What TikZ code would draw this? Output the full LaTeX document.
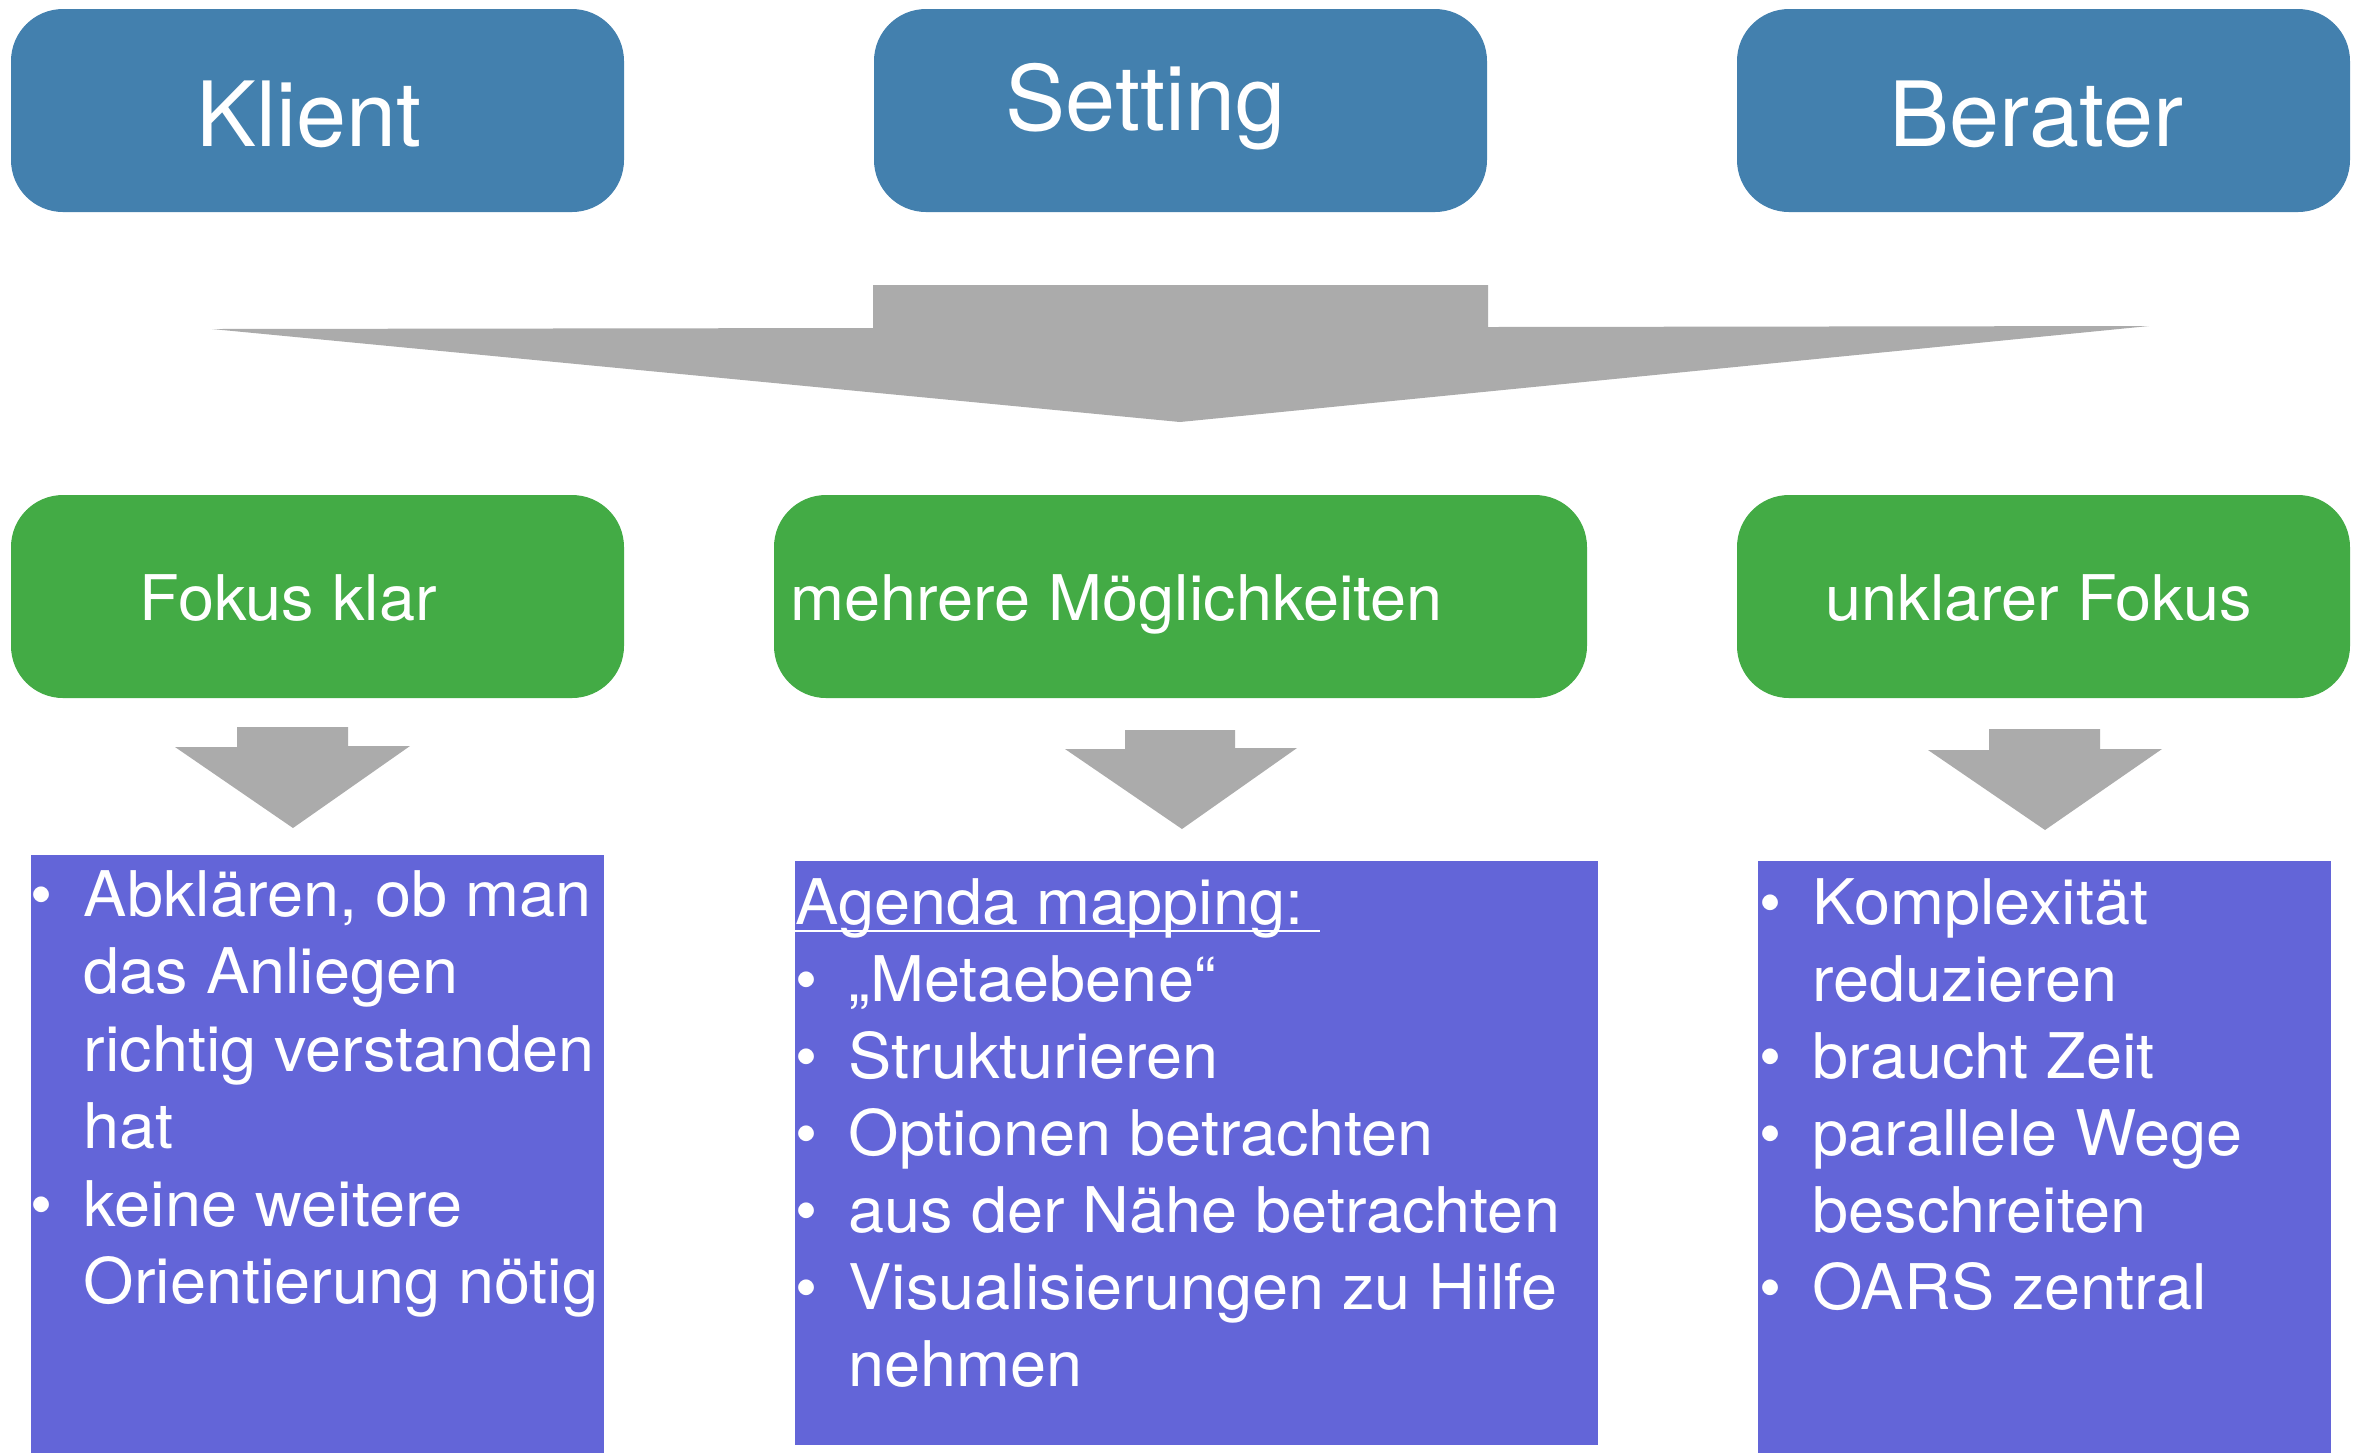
\documentclass[tikz,border=0pt]{standalone}
\usepackage{fontspec}
\setmainfont{TeX Gyre Heros}
\newfontfamily\bodyfont[FakeStretch=1.03]{TeX Gyre Heros}
\usetikzlibrary{fit}
\definecolor{topblue}{RGB}{67,128,174}
\definecolor{focusgreen}{RGB}{67,171,69}
\definecolor{notepurple}{RGB}{99,101,216}
\definecolor{arrowgray}{RGB}{171,171,171}
\begin{document}
\begin{tikzpicture}[x=0.01cm,y=-0.01cm,
  topbox/.style={fill=topblue, draw=none, rounded corners=0.52cm, inner sep=0pt},
  focusbox/.style={fill=focusgreen, draw=none, rounded corners=0.52cm, inner sep=0pt},
  notebox/.style={fill=notepurple, draw=none, inner sep=0pt},
  title/.style={text=white, inner sep=0pt, anchor=base west, font=\fontsize{25.6}{30}\selectfont},
  label/.style={text=white, inner sep=0pt, anchor=base west, font=\bodyfont\fontsize{17.9}{21.9}\selectfont},
  dot/.style={text=white, inner sep=0pt, anchor=base, font=\fontsize{17.9}{21.9}\selectfont},
  blockarrow/.style={fill=arrowgray, draw=none}]

\useasboundingbox (0,0) rectangle (2365,1453);

% top row: the three parties
\node[topbox, fit={(11,9) (624,212)}] (klient) {};
\node[topbox, fit={(874,9) (1487,212)}] (setting) {};
\node[topbox, fit={(1737,9) (2350,212)}] (berater) {};
\node[title] (klientT) at (196,146) {Klient};
\node[title] (settingT) at (1005,130) {Setting};
\node[title] (beraterT) at (1889,146) {Berater};

% wide arrow gathering the three parties
\fill[blockarrow] (212,329) -- (873,328) -- (873,285) -- (1488,285) -- (1488,327)
  -- (2149,326) -- (1180,422) -- cycle;

% second row: state of the focus
\node[focusbox, fit={(11,495) (624,698)}] (klar) {};
\node[focusbox, fit={(774,495) (1587,698)}] (mehrere) {};
\node[focusbox, fit={(1737,495) (2350,698)}] (unklar) {};
\node[label] (klarT) at (139,620) {Fokus klar};
\node[label] (mehrereT) at (790,620) {mehrere Möglichkeiten};
\node[label] (unklarT) at (1825,620) {unklarer Fokus};

% small down arrows
\fill[blockarrow] (175,747) -- (237,747) -- (237,727) -- (348,727) -- (348,746)
  -- (410,746) -- (293,828) -- cycle;
\fill[blockarrow] (1065,749) -- (1125,749) -- (1125,730) -- (1235,730) -- (1235,748)
  -- (1297,748) -- (1182,829) -- cycle;
\fill[blockarrow] (1928,750) -- (1989,750) -- (1989,729) -- (2100,729) -- (2100,749)
  -- (2162,749) -- (2045,830) -- cycle;

% third row: what to do
\node[notebox, fit={(31,855) (604,1453)}] (leftnote) {};
\node[notebox, fit={(795,861) (1598,1445)}] (midnote) {};
\node[notebox, fit={(1758,861) (2331,1453)}] (rightnote) {};

% left notes
\node[dot] (lb1) at (42,916) {•};
\node[label] (l1) at (83,916) {Abklären, ob man};
\node[label] (l2) at (83,993) {das Anliegen};
\node[label] (l3) at (83,1071) {richtig verstanden};
\node[label] (l4) at (83,1148) {hat};
\node[dot] (lb2) at (42,1226) {•};
\node[label] (l5) at (83,1226) {keine weitere};
\node[label] (l6) at (83,1303) {Orientierung nötig};

% middle notes
\node[label] (agenda) at (795,924) {Agenda mapping:};
\draw[white, line width=0.02cm] (795,931) -- (1320,931);
\node[dot] (mb1) at (807,1001) {•};
\node[label] (m1) at (848,1001) {„Metaebene“};
\node[dot] (mb2) at (807,1078) {•};
\node[label] (m2) at (848,1078) {Strukturieren};
\node[dot] (mb3) at (807,1155) {•};
\node[label] (m3) at (848,1155) {Optionen betrachten};
\node[dot] (mb4) at (807,1232) {•};
\node[label] (m4) at (848,1232) {aus der Nähe betrachten};
\node[dot] (mb5) at (807,1309) {•};
\node[label] (m5) at (848,1309) {Visualisierungen zu Hilfe};
\node[label] (m6) at (848,1386) {nehmen};

% right notes
\node[dot] (rb1) at (1771,924) {•};
\node[label] (r1) at (1812,924) {Komplexität};
\node[label] (r2) at (1812,1001) {reduzieren};
\node[dot] (rb2) at (1771,1078) {•};
\node[label] (r3) at (1812,1078) {braucht Zeit};
\node[dot] (rb3) at (1771,1155) {•};
\node[label] (r4) at (1812,1155) {parallele Wege};
\node[label] (r5) at (1812,1232) {beschreiten};
\node[dot] (rb4) at (1771,1309) {•};
\node[label] (r6) at (1812,1309) {OARS zentral};

\end{tikzpicture}
\end{document}
